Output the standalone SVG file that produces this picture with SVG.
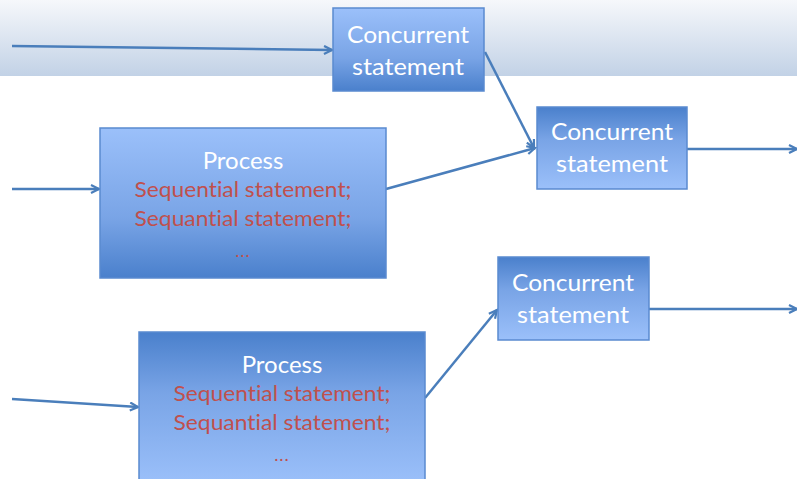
<svg xmlns="http://www.w3.org/2000/svg" width="797" height="479" viewBox="0 0 797 479">
<defs>
<linearGradient id="band" x1="0" y1="0" x2="0" y2="1"><stop offset="0" stop-color="#f6f8fb"/><stop offset="1" stop-color="#c2d2e6"/></linearGradient>
<linearGradient id="lightTop" x1="0" y1="0" x2="0" y2="1"><stop offset="0" stop-color="#9bc0fa"/><stop offset="0.6" stop-color="#79a4e6"/><stop offset="1" stop-color="#4a80cc"/></linearGradient>
<linearGradient id="darkTop" x1="0" y1="0" x2="0" y2="1"><stop offset="0" stop-color="#4a80cc"/><stop offset="0.4" stop-color="#79a4e6"/><stop offset="1" stop-color="#9bc0fa"/></linearGradient>
<marker id="arr" markerWidth="12" markerHeight="12" refX="9" refY="5" orient="auto" markerUnits="userSpaceOnUse"><path d="M1,1 L9,5 L1,9" fill="none" stroke="#4a7ebb" stroke-width="2.2"/></marker>
</defs>
<style>
.box{stroke:#5a8ad0;stroke-width:1.5}
.w{font-family:Lato,"Open Sans",sans-serif;font-size:24px;fill:#ffffff;text-anchor:middle;font-variant-ligatures:none}
.r{font-family:Lato,"Open Sans",sans-serif;font-size:22px;fill:#c0504d;text-anchor:middle;font-variant-ligatures:none}
.d{font-family:Lato,"Open Sans",sans-serif;font-size:18px;fill:#c0504d;text-anchor:middle;letter-spacing:1px}
.c{fill:none;stroke:#4a7ebb;stroke-width:2.5}
</style>
<rect x="0" y="0" width="797" height="76" fill="url(#band)"/>
<g id="connectors">
<line class="c" x1="12" y1="46" x2="332" y2="50" marker-end="url(#arr)"/>
<line class="c" x1="485" y1="52" x2="534" y2="148" marker-end="url(#arr)"/>
<line class="c" x1="386" y1="189" x2="535" y2="148" marker-end="url(#arr)"/>
<line class="c" x1="687" y1="149" x2="797" y2="149" marker-end="url(#arr)"/>
<line class="c" x1="12" y1="189" x2="99" y2="189" marker-end="url(#arr)"/>
<line class="c" x1="12" y1="399" x2="138" y2="407" marker-end="url(#arr)"/>
<line class="c" x1="425" y1="398" x2="497" y2="310" marker-end="url(#arr)"/>
<line class="c" x1="649" y1="309" x2="797" y2="309" marker-end="url(#arr)"/>
</g>
<g id="concurrent1">
<rect class="box" x="333" y="8" width="151" height="83" fill="url(#lightTop)"/>
<text class="w" x="408" y="43" textLength="122" lengthAdjust="spacingAndGlyphs">Concurrent</text>
<text class="w" x="408" y="75" textLength="112" lengthAdjust="spacingAndGlyphs">statement</text>
</g>
<g id="concurrent2">
<rect class="box" x="537" y="107" width="150" height="82" fill="url(#darkTop)"/>
<text class="w" x="612" y="140" textLength="122" lengthAdjust="spacingAndGlyphs">Concurrent</text>
<text class="w" x="612" y="172" textLength="112" lengthAdjust="spacingAndGlyphs">statement</text>
</g>
<g id="concurrent3">
<rect class="box" x="498" y="257" width="151" height="83" fill="url(#darkTop)"/>
<text class="w" x="573" y="291" textLength="122" lengthAdjust="spacingAndGlyphs">Concurrent</text>
<text class="w" x="573" y="323" textLength="112" lengthAdjust="spacingAndGlyphs">statement</text>
</g>
<g id="process1">
<rect class="box" x="100" y="128" width="286" height="150" fill="url(#lightTop)"/>
<text class="w" x="243" y="169">Process</text>
<text class="r" x="243" y="197" textLength="217" lengthAdjust="spacingAndGlyphs">Sequential statement;</text>
<text class="r" x="243" y="226" textLength="217" lengthAdjust="spacingAndGlyphs">Sequantial statement;</text>
<text class="d" x="243" y="257">...</text>
</g>
<g id="process2">
<rect class="box" x="139" y="332" width="286" height="152" fill="url(#darkTop)"/>
<text class="w" x="282" y="373">Process</text>
<text class="r" x="282" y="401" textLength="217" lengthAdjust="spacingAndGlyphs">Sequential statement;</text>
<text class="r" x="282" y="430" textLength="217" lengthAdjust="spacingAndGlyphs">Sequantial statement;</text>
<text class="d" x="282" y="461">...</text>
</g>
</svg>
